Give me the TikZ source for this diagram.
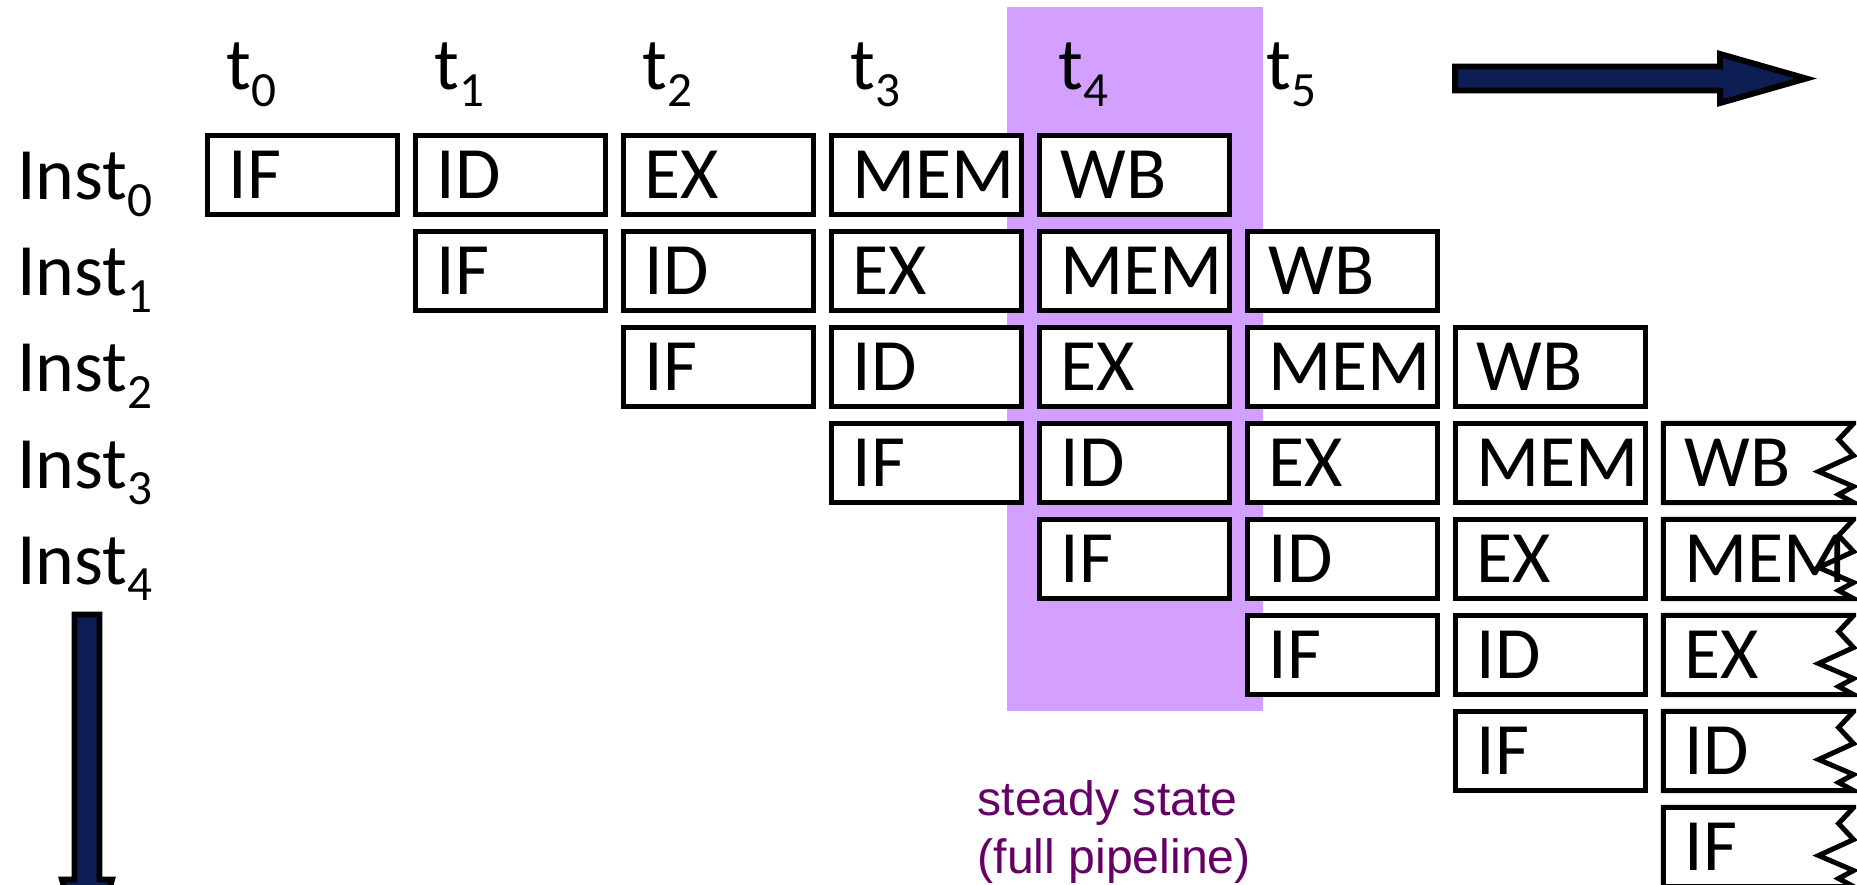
\documentclass[tikz,border=0pt]{standalone}
\usepackage{fontspec}
\setmainfont{Carlito}
\newfontfamily\notefont{Liberation Sans}
\def\steadyband{(1007,7) rectangle (1263,711)}
\def\timearrow{(1455,66.5) -- (1720,66.5) -- (1720,54) -- (1806,78.5) -- (1720,103) -- (1720,90.5) -- (1455,90.5) -- cycle}
\def\instarrow{(74.5,614.5) -- (99.5,614.5) -- (99.5,879.5) -- (112,879.5) -- (87,969.5) -- (62,879.5) -- (74.5,879.5) -- cycle}
\newcommand\idx[1]{\raisebox{-0.22em}{\fontsize{14}{14}\selectfont #1}}
\definecolor{band area}{RGB}{212,160,255}
\definecolor{arrow area}{RGB}{12,30,84}
\definecolor{note text}{RGB}{102,0,102}
\tikzset{stage/.style={draw, fill=white, line width=1.42pt, outer sep=0pt,
		minimum width=1.9cm, minimum height=0.79cm, text width=1.48cm, align=left,
		inner xsep=0.21cm, inner ysep=0pt, text height=0.47cm, text depth=0pt,
		font=\fontsize{21}{25}\selectfont},
	torn/.style={stage, draw=none},
	tornedge/.style={draw, line width=1.42pt},
	timelabel/.style={anchor=base west, inner sep=0pt, font=\fontsize{21}{25}\selectfont},
	rowlabel/.style={timelabel},
	note/.style={anchor=base west, inner sep=0pt, text=note text,
		font=\notefont\fontsize{13.7}{17}\selectfont},
	bigarrow/.style={fill=arrow area, draw=black, line width=1.7pt}}

\begin{document}
\begin{tikzpicture}[x=0.01cm, y=-0.01cm]
		\useasboundingbox (0,0) rectangle (1857,885);
		\clip (0,0) rectangle (1857,885);
		
		\fill[band area] \steadyband;
		
		\foreach \t in {0,...,5}
		\node[timelabel] (t\t) at (226+208*\t,90) {t\idx{\t}};
		\foreach \r in {0,...,4}
		\node[rowlabel] (inst\r) at (16.5,200+96*\r) {Inst\idx{\r}};
		
		\foreach \r in {0,...,7}
		\foreach \s/\st in {0/IF,1/ID,2/EX,3/MEM,4/WB} {
			\pgfmathtruncatemacro\c{\r+\s}
			\ifnum\c<7
			\node[stage] (\st\r) at (302.5+208*\c,175+96*\r) {\st};
			\else\ifnum\c=7
			\node[torn] (\st\r) at (302.5+208*\c,175+96*\r) {\st};
			\draw[tornedge] (\st\r.north east) -- (\st\r.north west) -- (\st\r.south west)
			-- (\st\r.south east) -- ++(-15,-8) -- ++(15,-8) -- ++(-35,-15)
			-- ++(35,-16) -- ++(-15,-16) -- ++(15,-16) -- cycle;
			\fi\fi
		}
		
		\draw[bigarrow] \timearrow;
		\draw[bigarrow] \instarrow;
		
		\node[note] (steady) at (977,815) {steady state};
		\node[note] (fullpipe) at (977,873) {(full pipeline)};
		
	\end{tikzpicture}
\end{document}
